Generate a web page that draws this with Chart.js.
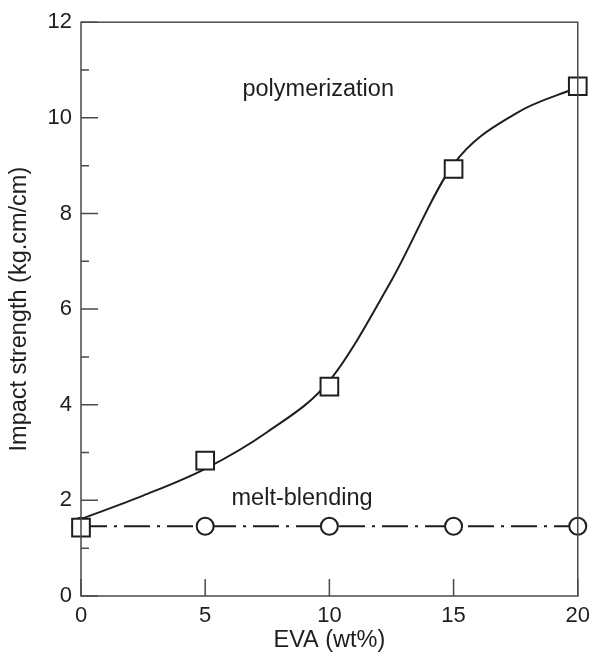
<!DOCTYPE html>
<html lang="en">
<head>
    <meta charset="UTF-8">
    <title>Impact strength vs EVA content</title>
    <script src="https://cdn.jsdelivr.net/npm/chart.js"></script>
    <style>
        body {
            margin: 0;
            padding: 0;
            background: #fff;
        }

        .chart-box {
            width: 597px;
            height: 660px;
        }
    </style>
</head>
<body>
    <div class="chart-box">
        <canvas id="chart"></canvas>
    </div>

    <script>
        // EVA content (wt%)
        const evaContent = [0, 5, 10, 15, 20];
        // measured impact strength (kg.cm/cm)
        const polymerizationValues = [1.43, 2.83, 4.38, 8.93, 10.66];
        const meltBlendingValues = [1.46, 1.46, 1.46, 1.46, 1.46];
        // hand-drawn trend curve through the polymerization samples
        const trendX = [0, 2.5, 5, 7.5, 10, 12.5, 15, 17.5, 20];
        const trendY = [1.61, 2.1, 2.66, 3.43, 4.5, 6.6, 9.03, 10.09, 10.64];

        const xMajorTicks = [0, 5, 10, 15, 20];
        const yMajorTicks = [0, 2, 4, 6, 8, 10, 12];
        const yMinorTicks = [1, 3, 5, 7, 9, 11];

        const INK = "#1e1e1e";
        const FONT = "'Liberation Sans', Arial, sans-serif";

        const toPoints = (xs, ys) => xs.map((x, i) => ({ x: x, y: ys[i] }));

        // frame, inward ticks and in-plot labels
        const framePlugin = {
            id: "frame",
            afterDatasetsDraw(chart) {
                const ctx = chart.ctx;
                const area = chart.chartArea;
                const xs = chart.scales.x;
                const ys = chart.scales.y;
                ctx.save();
                ctx.strokeStyle = "#4a4a4a";
                ctx.lineWidth = 1.5;
                ctx.strokeRect(area.left, area.top, area.right - area.left, area.bottom - area.top);

                ctx.beginPath();
                yMajorTicks.forEach(v => {
                    const py = ys.getPixelForValue(v);
                    ctx.moveTo(area.left, py);
                    ctx.lineTo(area.left + 17, py);
                });
                yMinorTicks.forEach(v => {
                    const py = ys.getPixelForValue(v);
                    ctx.moveTo(area.left, py);
                    ctx.lineTo(area.left + 8, py);
                });
                xMajorTicks.forEach(v => {
                    const px = xs.getPixelForValue(v);
                    ctx.moveTo(px, area.bottom);
                    ctx.lineTo(px, area.bottom - 17);
                });
                ctx.stroke();

                ctx.fillStyle = INK;
                ctx.font = "23.5px " + FONT;
                ctx.textAlign = "center";
                ctx.textBaseline = "middle";
                ctx.fillText("polymerization", xs.getPixelForValue(9.55), ys.getPixelForValue(10.6));
                ctx.fillText("melt-blending", xs.getPixelForValue(8.9), ys.getPixelForValue(2.04));
                ctx.restore();
            }
        };

        const ctx = document.getElementById("chart").getContext("2d");
        const chart = new Chart(ctx, {
            type: "scatter",
            data: {
                datasets: [
                    {
                        label: "polymerization",
                        data: toPoints(evaContent, polymerizationValues),
                        showLine: false,
                        pointStyle: "rect",
                        pointRadius: 12.5,
                        pointBorderWidth: 2,
                        pointBackgroundColor: "#fff",
                        pointBorderColor: INK,
                        clip: false,
                    },
                    {
                        label: "polymerization trend",
                        data: toPoints(trendX, trendY),
                        showLine: true,
                        cubicInterpolationMode: "monotone",
                        borderColor: INK,
                        borderWidth: 2,
                        pointRadius: 0,
                        clip: false,
                    },
                    {
                        label: "melt-blending",
                        data: toPoints(evaContent, meltBlendingValues),
                        showLine: true,
                        borderColor: INK,
                        borderWidth: 2,
                        borderDash: [26, 7, 3, 7],
                        pointStyle: "circle",
                        pointRadius: 8.5,
                        pointBorderWidth: 2,
                        pointBackgroundColor: "#fff",
                        pointBorderColor: INK,
                        clip: false,
                    },
                ],
            },
            options: {
                responsive: true,
                maintainAspectRatio: false,
                animation: false,
                layout: {
                    padding: { top: 22, right: 16, left: 0, bottom: 0 },
                },
                plugins: {
                    legend: { display: false },
                    tooltip: { enabled: false },
                },
                scales: {
                    x: {
                        type: "linear",
                        min: 0,
                        max: 20,
                        afterFit: s => { s.height = 64; },
                        afterBuildTicks: s => { s.ticks = xMajorTicks.map(v => ({ value: v })); },
                        grid: { display: false, drawTicks: false },
                        border: { display: false },
                        ticks: {
                            color: INK,
                            padding: 7,
                            font: { family: FONT, size: 22 },
                        },
                        title: {
                            display: true,
                            text: "EVA (wt%)",
                            color: INK,
                            padding: { top: 0, bottom: 5 },
                            font: { family: FONT, size: 23.5 },
                        },
                    },
                    y: {
                        min: 0,
                        max: 12,
                        afterFit: s => { s.width = 81; },
                        afterBuildTicks: s => { s.ticks = yMajorTicks.map(v => ({ value: v })); },
                        grid: { display: false, drawTicks: false },
                        border: { display: false },
                        ticks: {
                            color: INK,
                            padding: 9,
                            font: { family: FONT, size: 22 },
                        },
                        title: {
                            display: true,
                            text: "Impact strength (kg.cm/cm)",
                            color: INK,
                            padding: { top: 5, bottom: 0 },
                            font: { family: FONT, size: 23.5 },
                        },
                    },
                },
            },
            plugins: [framePlugin],
        });
    </script>
</body>
</html>
